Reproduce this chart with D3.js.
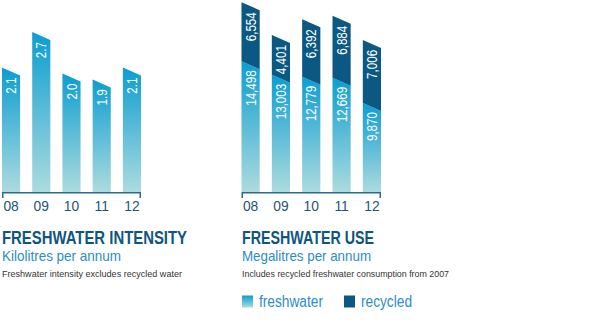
<!DOCTYPE html>
<html>
<head>
<meta charset="utf-8">
<script src="https://cdn.jsdelivr.net/npm/d3@7"></script>
<style>
  html, body { margin: 0; padding: 0; background: #fff; }
  svg { display: block; }
  text { font-family: "Liberation Sans", Arial, sans-serif; }
</style>
</head>
<body>
<svg id="chart" width="616" height="324"></svg>
<script>
// ---- data ----
const years = ["08", "09", "10", "11", "12"];
const intensity = [2.1, 2.7, 2.0, 1.9, 2.1];          // kilolitres per annum
const freshwater = [14498, 13003, 12779, 12669, 9870]; // megalitres
const recycled = [6554, 4401, 6392, 6884, 7006];       // megalitres

const titles = ["FRESHWATER INTENSITY", "FRESHWATER USE"];
const subtitles = ["Kilolitres per annum", "Megalitres per annum"];
const notes = ["Freshwater intensity excludes recycled water", "Includes recycled freshwater consumption from 2007"];
const legendLabels = ["freshwater", "recycled"];

// ---- style ----
const C = {
  fTop: "#0c9dd1", fBot: "#acdbde", rec: "#0b5983",
  axis: "#2a6b90", tick: "#1c5478", title: "#0e5580", sub: "#2b8dc6", note: "#333333"
};
const SLANT = 8, BASE = 192;

const svg = d3.select("#chart");
const defs = svg.append("defs");
const grad = defs.append("linearGradient").attr("id", "fg").attr("x1", 0).attr("y1", 0).attr("x2", 0).attr("y2", 1);
grad.append("stop").attr("offset", "0%").attr("stop-color", C.fTop);
grad.append("stop").attr("offset", "100%").attr("stop-color", C.fBot);

// emulate a condensed face by compressing measured text length
function narrow(sel, factor) {
  sel.each(function () {
    const w = this.getComputedTextLength();
    d3.select(this).attr("textLength", w * factor).attr("lengthAdjust", "spacingAndGlyphs");
  });
  return sel;
}

function quad(x0, x1, yTopLeft, yBotLeft, slantBottom) {
  const yb = slantBottom ? yBotLeft + SLANT : yBotLeft;
  return `M${x0},${yTopLeft}L${x1},${yTopLeft + SLANT}L${x1},${yb}L${x0},${yBotLeft}Z`;
}

function valueLabel(g, x, yTopRight, txt) {
  const t = g.append("text")
    .attr("transform", `translate(${x + 5},${yTopRight + 2}) rotate(-90)`)
    .attr("text-anchor", "end")
    .attr("fill", "#fff")
    .attr("font-size", 14.5)
    .text(txt);
  narrow(t, 0.8);
}

function axis(g, x) {
  const [a, b] = x.range();
  const ax = d3.axisBottom(x).tickSize(0).tickPadding(8).tickFormat(d => d);
  const ag = g.append("g").attr("transform", `translate(0,${BASE})`).call(ax);
  ag.select(".domain").remove();
  const tx = ag.selectAll("text").attr("font-size", 15).attr("fill", C.tick)
    .attr("font-family", null).attr("dy", null).attr("y", 19);
  narrow(tx, 0.92);
  g.append("path")
    .attr("d", `M${a + 0.75},${BASE + 6}V${BASE + 0.75}H${b - 0.75}V${BASE + 6}`)
    .attr("fill", "none").attr("stroke", C.axis).attr("stroke-width", 1.5);
}

function captions(g, i, x0, widths) {
  g.append("text").attr("x", x0).attr("y", 244).attr("font-size", 18).attr("font-weight", "bold")
    .attr("fill", C.title).attr("textLength", widths[0]).attr("lengthAdjust", "spacingAndGlyphs").text(titles[i]);
  g.append("text").attr("x", x0).attr("y", 261).attr("font-size", 14.5)
    .attr("fill", C.sub).attr("textLength", widths[1]).attr("lengthAdjust", "spacingAndGlyphs").text(subtitles[i]);
  g.append("text").attr("x", x0).attr("y", 276.5).attr("font-size", 9.5)
    .attr("fill", C.note).attr("textLength", widths[2]).attr("lengthAdjust", "spacingAndGlyphs").text(notes[i]);
}

// ---- left chart: intensity ----
{
  const g = svg.append("g");
  const x = d3.scaleBand().domain(years).range([2, 141]).paddingInner(0.4);
  const y = d3.scaleLinear().domain([0, 3.24]).range([BASE, 0]);
  years.forEach((yr, i) => {
    const x0 = x(yr), x1 = x0 + x.bandwidth();
    g.append("path").attr("d", quad(x0, x1, y(intensity[i]), BASE, false)).attr("fill", "url(#fg)");
    valueLabel(g, x0 + x.bandwidth() / 2, y(intensity[i]) + SLANT, d3.format(".1f")(intensity[i]));
  });
  axis(g, x);
  captions(g, 0, 2, [185, 119, 180]);
}

// ---- right chart: freshwater use ----
{
  const g = svg.append("g");
  const x = d3.scaleBand().domain(years).range([241.5, 381]).paddingInner(0.4);
  const y = d3.scaleLinear().domain([0, 21300]).range([BASE, 0]);
  const stack = d3.stack().keys(["freshwater", "recycled"])(
    years.map((yr, i) => ({ year: yr, freshwater: freshwater[i], recycled: recycled[i] })));
  years.forEach((yr, i) => {
    const x0 = x(yr), x1 = x0 + x.bandwidth(), cx = x0 + x.bandwidth() / 2;
    const f = stack[0][i], r = stack[1][i];
    g.append("path").attr("d", quad(x0, x1, y(f[1]), BASE, false)).attr("fill", "url(#fg)");
    g.append("path").attr("d", quad(x0, x1, y(r[1]), y(r[0]), true)).attr("fill", C.rec);
    valueLabel(g, cx, y(r[1]) + SLANT, d3.format(",")(recycled[i]));
    valueLabel(g, cx, y(f[1]) + SLANT - 1, d3.format(",")(freshwater[i]));
  });
  axis(g, x);
  captions(g, 1, 242, [132, 129, 207]);

  // legend
  const lg = g.append("g");
  lg.append("rect").attr("x", 242).attr("y", 295.5).attr("width", 11).attr("height", 12).attr("fill", "url(#fg)");
  lg.append("text").attr("x", 259).attr("y", 306.5).attr("font-size", 16).attr("fill", C.sub)
    .attr("textLength", 64).attr("lengthAdjust", "spacingAndGlyphs").text(legendLabels[0]);
  lg.append("rect").attr("x", 344).attr("y", 295.5).attr("width", 11).attr("height", 12).attr("fill", C.rec);
  lg.append("text").attr("x", 361).attr("y", 306.5).attr("font-size", 16).attr("fill", C.sub)
    .attr("textLength", 51).attr("lengthAdjust", "spacingAndGlyphs").text(legendLabels[1]);
}
</script>
</body>
</html>
